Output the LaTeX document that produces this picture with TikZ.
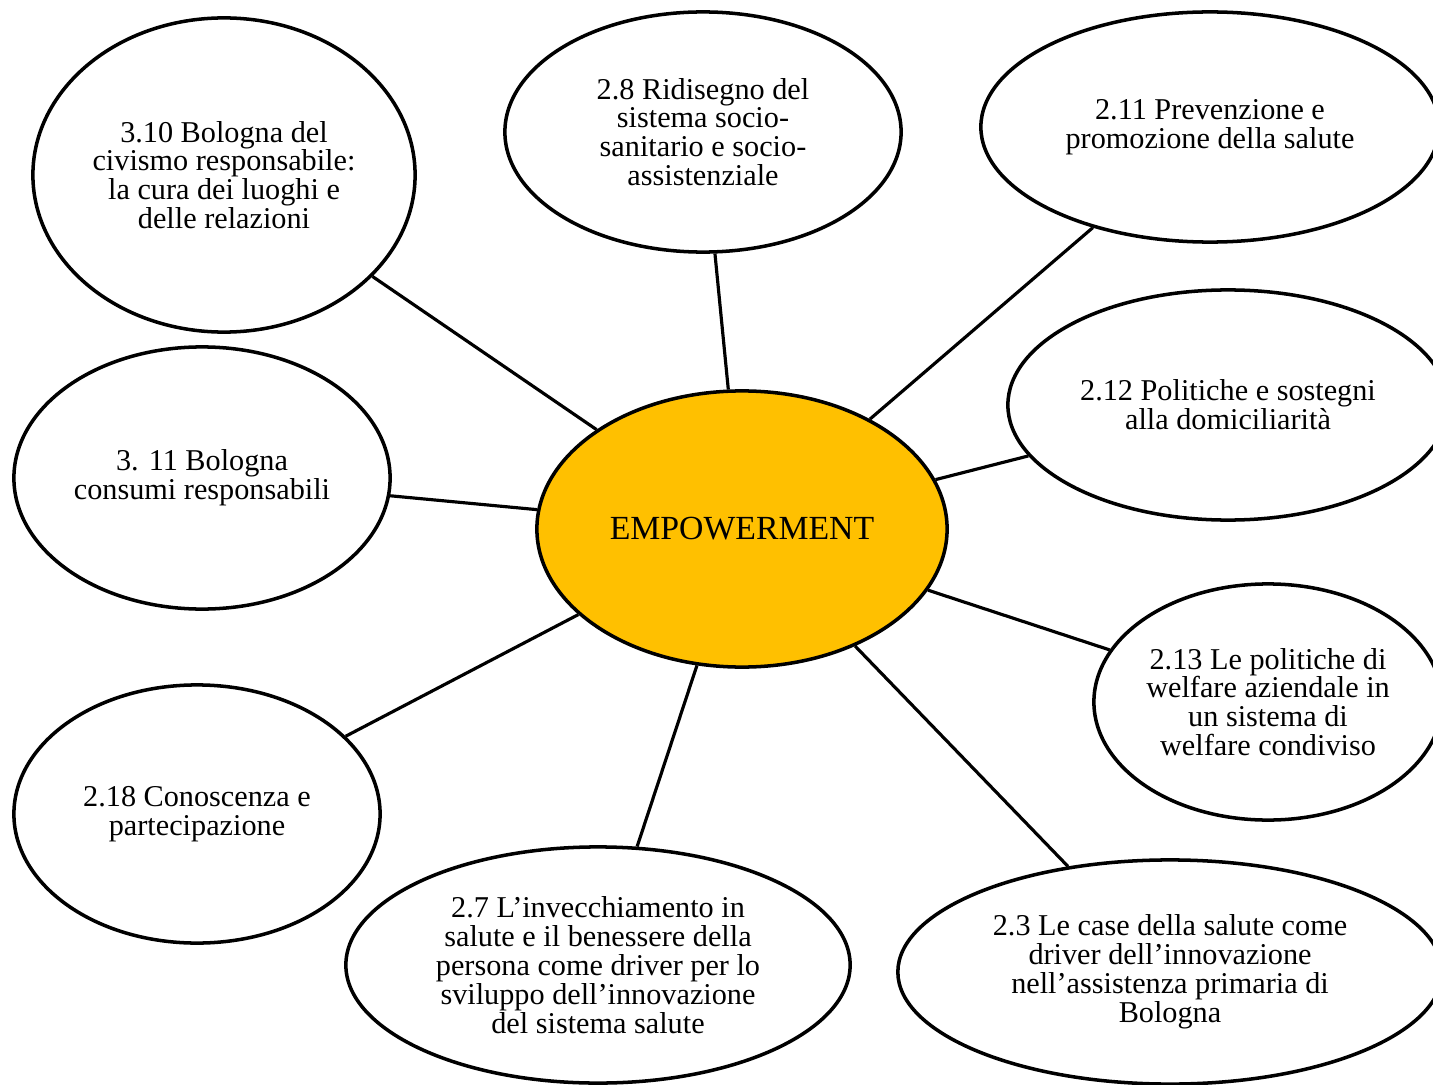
\documentclass[tikz,border=0pt]{standalone}
\usepackage{fontspec}
\setmainfont{Liberation Serif}
\usetikzlibrary{shapes.geometric}

\definecolor{empgold}{HTML}{FFC000}
\newcommand\bubblefont{\fontsize{8.6}{8.2}\selectfont}

\begin{document}
\begin{tikzpicture}[x=0.01cm, y=-0.01cm,
    bubble/.style={draw, ellipse, line width=1pt, fill=white, align=center, inner sep=0pt, font=\bubblefont},
    link/.style={line width=0.9pt}
  ]
  \useasboundingbox (0,0) rectangle (1433,1085);
  \clip (0,0) rectangle (1433,1085);

  % central topic
  \node[bubble, fill=empgold, minimum width=4.1cm, minimum height=2.76cm,
        font=\fontsize{9.6}{11}\selectfont] (emp) at (742,529) {EMPOWERMENT};

  % surrounding projects
  \node[bubble, minimum width=3.82cm, minimum height=3.14cm] (civ) at (224,175)
    {3.10 Bologna del\\civismo responsabile:\\la cura dei luoghi e\\delle relazioni};
  \node[bubble, minimum width=3.96cm, minimum height=2.40cm] (soc) at (703,132)
    {2.8 Ridisegno del\\sistema socio-\\sanitario e socio-\\assistenziale};
  \node[bubble, minimum width=4.58cm, minimum height=2.30cm] (prev) at (1210,127)
    {2.11 Prevenzione e\\promozione della salute};
  \node[bubble, minimum width=4.40cm, minimum height=2.30cm] (dom) at (1228,405)
    {2.12 Politiche e sostegni\\alla domiciliarità};
  \node[bubble, minimum width=3.76cm, minimum height=2.62cm] (cons) at (202,478)
    {3. 11 Bologna\\consumi responsabili};
  \node[bubble, minimum width=3.48cm, minimum height=2.36cm] (welf) at (1268,702)
    {2.13 Le politiche di\\welfare aziendale in\\un sistema di\\welfare condiviso};
  \node[bubble, minimum width=3.66cm, minimum height=2.58cm] (conosc) at (197,814)
    {2.18 Conoscenza e\\partecipazione};
  \node[bubble, minimum width=5.04cm, minimum height=2.36cm] (invec) at (598,965)
    {2.7 L’invecchiamento in\\salute e il benessere della\\persona come driver per lo\\sviluppo dell’innovazione\\del sistema salute};
  \node[bubble, minimum width=5.44cm, minimum height=2.24cm] (case) at (1170,972)
    {2.3 Le case della salute come\\driver dell’innovazione\\nell’assistenza primaria di\\Bologna};

  % spokes
  \foreach \n in {civ,soc,prev,dom,cons,welf,conosc,invec,case}
    \draw[link] (emp) -- (\n);
\end{tikzpicture}
\end{document}
